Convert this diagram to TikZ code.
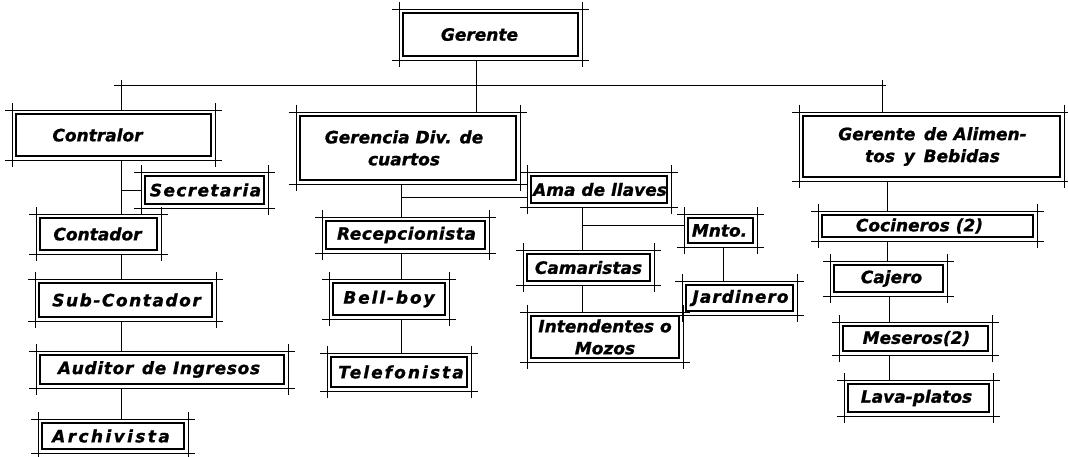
\documentclass[tikz,border=0pt]{standalone}
\usepackage{fontspec}
\newfontfamily\lettering{DejaVu Sans}[FakeBold=1]
\newcommand\ls[1]{\addfontfeature{LetterSpace=#1}}
\usetikzlibrary{calc}
\tikzset{
  obox/.style={rectangle, inner sep=0pt, outer sep=0pt, draw=none},
  otext/.style={font=\lettering\bfseries\itshape\fontsize{17}{22}\selectfont, align=center, inner sep=0pt},
  innerline/.style={line width=2.2pt},
  tickline/.style={line width=0.9pt},
  conn/.style={line width=1pt},
}
\newcommand\obox[7]{%
  \node[obox, minimum width={(#4-#2)*1pt}, minimum height={(#5-#3)*1pt}] (#1) at ({(#2+#4)/2},{(#3+#5)/2}) {};
  \draw[innerline] ([shift={(4,4)}]#1.north west) rectangle ([shift={(-4,-4)}]#1.south east);
  \draw[tickline] ({#2-7},#3) -- ({#4+7},#3) ({#2-7},#5) -- ({#4+7},#5) (#2,{#3-7}) -- (#2,{#5+7}) (#4,{#3-7}) -- (#4,{#5+7});
  \node[otext] (#1t) at ([xshift=#6pt]#1.center) {#7};
}
\begin{document}
\begin{tikzpicture}[x=1pt,y=-1pt]
\useasboundingbox[fill=white] (0,0) rectangle (1068,456);
\obox{ger}{399}{9}{582}{60}{-11}{Gerente}
\obox{contr}{12}{110}{215}{160}{-16}{Contralor}
\obox{secr}{141}{172}{268}{208}{1}{\ls{8}Secretaria}
\obox{conta}{36}{214}{161}{254}{-1}{Contador}
\obox{sub}{35}{279}{216}{321}{1}{\ls{9}Sub-Contador}
\obox{aud}{36}{351}{288}{388}{-3}{\ls{4}Auditor\enspace de Ingresos}
\obox{arch}{38}{419}{188}{453}{-2}{\ls{14}Archivista}
\obox{gdc}{296}{112}{520}{184}{-4}{Gerencia Div. de\\cuartos}
\obox{rec}{322}{217}{489}{253}{1}{\ls{3}Recepcionista}
\obox{bell}{329}{279}{449}{319}{0}{\ls{11}Bell-boy}
\obox{tel}{327}{353}{471}{391}{2}{\ls{12}Telefonista}
\obox{ama}{527}{172}{671}{207}{1}{Ama de llaves}
\obox{mnto}{684}{214}{757}{247}{-1}{Mnto.}
\obox{cam}{523}{250}{654}{285}{0}{Camaristas}
\obox{int}{527}{312}{683}{362}{0}{Intendentes o\\Mozos}
\obox{jard}{682}{281}{797}{315}{1}{\ls{6}Jardinero}
\obox{alim}{799}{112}{1064}{181}{1}{Gerente\enspace de Alimen-\\tos\, y\, Bebidas}
\obox{coc}{818}{211}{1037}{241}{-8}{Cocineros (2)}
\obox{caj}{830}{261}{947}{296}{3}{Cajero}
\obox{mes}{839}{322}{992}{355}{1}{Meseros(2)}
\obox{lava}{844}{380}{993}{416}{-2}{Lava-platos}
% bus
\coordinate (busL) at (114,85);
\coordinate (busR) at (886,85);
\draw[conn] (busL) -- (busR);
\coordinate (d1) at (121,80);
\coordinate (d3) at (882,80);
\draw[conn] (d1) -- (d1 |- contr.north);
\draw[conn] (d3) -- (d3 |- alim.north);
\coordinate (gs) at (476,0);
\draw[conn] (gs |- ger.south) -- (gs |- gdc.north);
% contralor chain
\coordinate (cx) at (121,0);
\draw[conn] (cx |- contr.south) -- (cx |- conta.north);
\draw[conn] (cx |- conta.south) -- (cx |- sub.north);
\draw[conn] (cx |- sub.south) -- (cx |- aud.north);
\draw[conn] (cx |- aud.south) -- (cx |- arch.north);
\draw[conn] (cx |- secr.west) -- (secr.west);
% gerencia chain
\coordinate (gx) at (401,0);
\draw[conn] (gx |- gdc.south) -- (gx |- rec.north);
\draw[conn] (gx |- rec.south) -- (gx |- bell.north);
\draw[conn] (gx |- bell.south) -- (gx |- tel.north);
\coordinate (ab) at (401,197);
\draw[conn] (ab) -- (ab -| ama.west);
% ama chain
\coordinate (ax) at (582,0);
\draw[conn] (ax |- ama.south) -- (ax |- cam.north);
\draw[conn] (ax |- cam.south) -- (ax |- int.north);
\coordinate (mb) at (582,225);
\draw[conn] (mb) -- (mb -| mnto.west);
\coordinate (mx) at (723,0);
\draw[conn] (mx |- mnto.south) -- (mx |- jard.north);
% alimentos chain
\coordinate (fx) at (887,0);
\draw[conn] (fx |- alim.south) -- (fx |- coc.north);
\draw[conn] (fx |- coc.south) -- (fx |- caj.north);
\coordinate (fy) at (889,0);
\draw[conn] (fy |- caj.south) -- (fy |- mes.north);
\draw[conn] (fy |- mes.south) -- (fy |- lava.north);
\end{tikzpicture}
\end{document}
